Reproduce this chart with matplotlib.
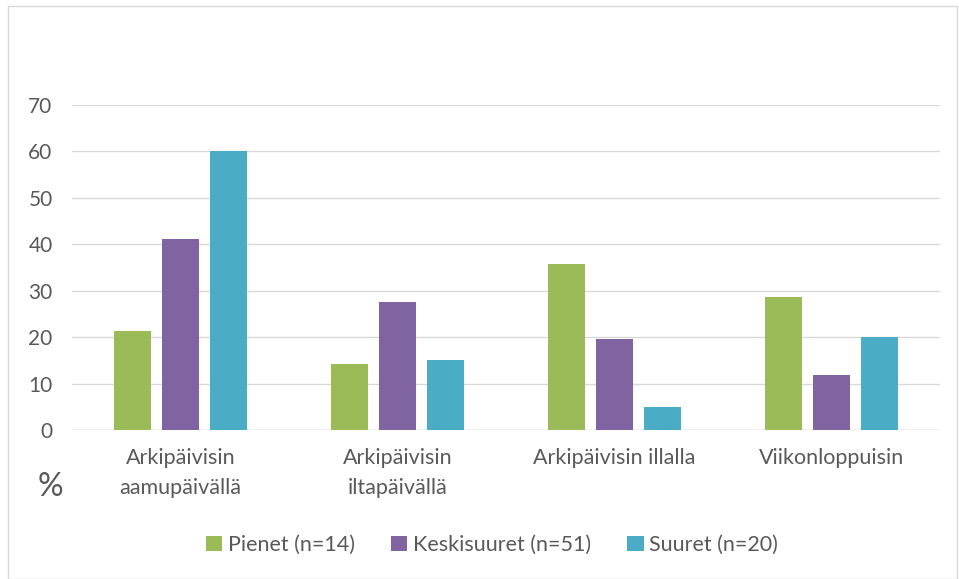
import matplotlib.pyplot as plt
import numpy as np
from matplotlib.patches import Rectangle

categories = ['Arkipäivisin\naamupäivällä', 'Arkipäivisin\niltapäivällä',
              'Arkipäivisin illalla', 'Viikonloppuisin']
series_names = ['Pienet (n=14)', 'Keskisuuret (n=51)', 'Suuret (n=20)']
pienet = [21.4, 14.3, 35.7, 28.6]
keskisuuret = [41.2, 27.5, 19.6, 11.8]
suuret = [60.0, 15.0, 5.0, 20.0]
yticks = [0, 10, 20, 30, 40, 50, 60, 70]

colors = ['#9BBB59', '#8064A2', '#4BACC6']
txt = '#595959'
plt.rcParams['font.family'] = ['Lato', 'DejaVu Sans']

fig = plt.figure(figsize=(9.59, 5.79), dpi=100)
ax = fig.add_axes([72/959, 1-430/579, 868/959, 325/579])

x = np.arange(len(categories))
w = 0.17
off = 0.222
for i, (vals, name) in enumerate(zip([pienet, keskisuuret, suuret], series_names)):
    ax.bar(x + (i-1)*off, vals, w, color=colors[i], label=name, zorder=3)

ax.set_xlim(-0.5, 3.5)
ax.set_ylim(0, 70)
ax.set_yticks(yticks)
ax.yaxis.grid(True, color='#D9D9D9', lw=1, zorder=0)
for s in ax.spines.values():
    s.set_visible(False)
ax.axhline(0, color='#D9D9D9', lw=1, zorder=2)
ax.tick_params(axis='both', length=0, labelsize=15, colors=txt)
ax.tick_params(axis='y', pad=14)
ax.tick_params(axis='x', pad=13)
ax.set_xticks(x)
ax.set_xticklabels(categories, fontsize=15.5, color=txt, linespacing=1.6)

fig.text(50/959, 1-487/579, '%', fontsize=23, color=txt, ha='center', va='center')

leg = fig.legend(loc='center', bbox_to_anchor=(492/959, 1-545/579), ncol=3,
                 frameon=False, fontsize=15.5, handlelength=0.75, handleheight=0.75,
                 columnspacing=1.7, handletextpad=0.25)
for t in leg.get_texts():
    t.set_color(txt)

fig.patches.append(Rectangle((8/959, 0), 1-10/959, 1-6/579, transform=fig.transFigure,
                             fill=False, edgecolor='#D9D9D9', lw=1))

fig.savefig('out.png', dpi=100)
